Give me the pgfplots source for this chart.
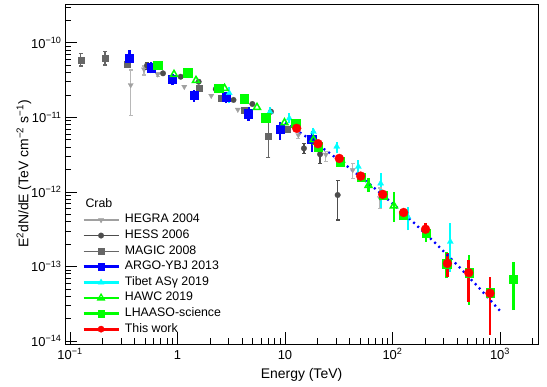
\documentclass[border=0pt]{standalone}
\usepackage{pgfplots}
\pgfplotsset{compat=1.18}
\usepackage{fontspec}
\setmainfont{Liberation Sans}
\definecolor{hegra}{HTML}{A0A0A0}
\definecolor{hegrabar}{HTML}{B8B8B8}
\definecolor{hess}{HTML}{4D4D4D}
\definecolor{magic}{HTML}{666666}
\definecolor{argo}{HTML}{0000FF}
\definecolor{tibet}{HTML}{00FFFF}
\definecolor{hawc}{HTML}{00FF00}
\definecolor{lhaaso}{HTML}{00FF00}
\definecolor{thiswork}{HTML}{FF0000}
\begin{document}
\begin{tikzpicture}
\begin{axis}[
  scale only axis, width=473bp, height=340bp,
  xmode=log, ymode=log,
  xmin=0.08985, xmax=2257, ymin=9.14e-15, ymax=3.305e-10,
  axis line style={line width=0.9bp},
  tick pos=left, tick align=inside,
  major tick length=12bp, minor tick length=6bp,
  every tick/.style={black, line width=0.7bp},
  xtick={0.1,1,10,100,1000},
  xticklabels={10\textsuperscript{−1},1,10,10\textsuperscript{2},10\textsuperscript{3}},
  minor xtick={0.2,0.3,0.4,0.5,0.6,0.7,0.8,0.9,2,3,4,5,6,7,8,9,20,30,40,50,60,70,80,90,200,300,400,500,600,700,800,900,2000},
  ytick={1e-14,1e-13,1e-12,1e-11,1e-10},
  yticklabels={10\textsuperscript{−14},10\textsuperscript{−13},10\textsuperscript{−12},10\textsuperscript{−11},10\textsuperscript{−10}},
  minor ytick={2e-14,3e-14,4e-14,5e-14,6e-14,7e-14,8e-14,9e-14,2e-13,3e-13,4e-13,5e-13,6e-13,7e-13,8e-13,9e-13,2e-12,3e-12,4e-12,5e-12,6e-12,7e-12,8e-12,9e-12,2e-11,3e-11,4e-11,5e-11,6e-11,7e-11,8e-11,9e-11,2e-10,3e-10},
  ticklabel style={font=\fontsize{13}{15}\selectfont},
  xticklabel style={text height=9.5bp, text depth=0bp, anchor=north, yshift=-2bp},
  every axis x label/.style={at={(axis description cs:0.5,-0.1)}, anchor=base},
  every axis y label/.style={at={(axis description cs:-0.0772,0.5)}, anchor=base, rotate=90},
  label style={font=\fontsize{14}{16}\selectfont},
  xlabel={Energy (TeV)},
  ylabel={E\textsuperscript{2}dN/dE (TeV cm\textsuperscript{−2} s\textsuperscript{−1})},
  legend image code/.code={\draw[mark repeat=2,mark phase=2,#1] plot coordinates {(0bp,0bp) (17.5bp,0bp) (35bp,0bp)};},
  legend cell align=left,
  legend style={at={(axis description cs:0.036,0.3884)}, anchor=north west, draw=none, fill=none,
    inner sep=0pt, row sep=0pt, font=\fontsize{12.4}{14}\selectfont,
    nodes={inner ysep=1.8bp, inner xsep=5bp, text height=9bp, text depth=3bp}},
]
% ---------------- HEGRA 2004
\addplot[hegrabar, line width=1.2bp, mark=-, mark size=2bp, mark options={solid}, unbounded coords=jump, forget plot] coordinates {
(0.367,1.07e-11)(0.367,4.31e-11)(0.367,nan)
(0.488,3.69e-11)(0.488,4.87e-11)(0.488,nan)
(0.655,3.55e-11)(0.655,4.0e-11)(0.655,nan)
(13.3,5.23e-12)(13.3,6.41e-12)(13.3,nan)
(24.0,2.54e-12)(24.0,3.45e-12)(24.0,nan)
(42.7,1.52e-12)(42.7,2.42e-12)(42.7,nan)
(76.5,6.03e-13)(76.5,1.13e-12)
};
\addplot[only marks, mark=triangle*, mark size=3bp, mark options={rotate=180, fill=hegra, draw=hegra, line width=0.3bp}, forget plot] coordinates {
(0.367,2.71e-11)(0.488,4.40e-11)(0.655,3.77e-11)(1.157,2.57e-11)(2.06,1.95e-11)(3.64,1.27e-11)(13.3,5.79e-12)(24.0,3.17e-12)(42.7,1.97e-12)(76.5,8.28e-13)
};
% ---------------- HESS 2006
\addplot[hess, line width=1.2bp, mark=-, mark size=2bp, mark options={solid}, unbounded coords=jump, forget plot] coordinates {
(0.520,4.40e-11)(0.520,5.46e-11)(0.520,nan)
(15.0,3.29e-12)(15.0,4.48e-12)(15.0,nan)
(21.2,2.42e-12)(21.2,3.46e-12)(21.2,nan)
(30.9,4.2e-13)(30.9,1.43e-12)
};
\addplot[only marks, mark=*, mark size=2.8bp, mark options={fill=hess, draw=hess, line width=0.3bp}, forget plot] coordinates {
(0.520,4.95e-11)(0.733,3.89e-11)(1.071,3.50e-11)(1.574,3.00e-11)(2.27,2.39e-11)(3.32,1.71e-11)(4.97,1.51e-11)(7.41,1.19e-11)(15.0,3.84e-12)(21.2,3.20e-12)(30.9,9.09e-13)
};
% ---------------- MAGIC 2008
\addplot[magic, line width=1.2bp, mark=-, mark size=2bp, mark options={solid}, unbounded coords=jump, forget plot] coordinates {
(0.1257,4.87e-11)(0.1257,7.21e-11)(0.1257,nan)
(0.212,5.02e-11)(0.212,7.57e-11)(0.212,nan)
(7.02,2.91e-12)(7.02,1.07e-11)
};
\addplot[only marks, mark=square*, mark size=3bp, mark options={fill=magic, draw=magic, line width=0.3bp}, forget plot] coordinates {
(0.1257,5.86e-11)(0.212,6.29e-11)(0.337,5.13e-11)(1.574,2.45e-11)(2.56,1.80e-11)(4.20,1.23e-11)(7.02,5.62e-12)(10.55,6.90e-12)
};
% ---------------- ARGO-YBJ 2013
\addplot[argo, line width=2.7bp, unbounded coords=jump, forget plot] coordinates {
(0.356,4.76e-11)(0.356,7.98e-11)(0.356,nan)
(0.567,3.89e-11)(0.567,5.56e-11)(0.567,nan)
(0.895,2.71e-11)(0.895,3.77e-11)(0.895,nan)
(1.424,1.62e-11)(1.424,2.32e-11)(1.424,nan)
(2.83,1.54e-11)(2.83,2.20e-11)(2.83,nan)
(4.56,9.0e-12)(4.56,1.39e-11)(4.56,nan)
(8.98,4.97e-12)(8.98,8.73e-12)(8.98,nan)
(17.8,3.46e-12)(17.8,6.6e-12)
};
\addplot[only marks, mark=square*, mark size=4.3bp, mark options={fill=argo, draw=argo, line width=0.3bp}, forget plot] coordinates {
(0.356,6.18e-11)(0.567,4.63e-11)(0.895,3.23e-11)(1.424,1.99e-11)(2.83,1.89e-11)(4.56,1.13e-11)(8.98,6.90e-12)(17.8,5.07e-12)
};
% ---------------- Tibet ASgamma 2019
\addplot[tibet, line width=2bp, unbounded coords=jump, forget plot] coordinates {
(3.03,1.54e-11)(3.03,2.57e-11)(3.03,nan)
(7.25,9.7e-12)(7.25,1.39e-11)(7.25,nan)
(10.97,8.32e-12)(10.97,1.13e-11)(10.97,nan)
(18.4,5.5e-12)(18.4,7.13e-12)(18.4,nan)
(30.3,3.29e-12)(30.3,4.71e-12)(30.3,nan)
(48.1,1.69e-12)(48.1,2.68e-12)(48.1,nan)
(77.6,6.08e-13)(77.6,1.77e-12)(77.6,nan)
(139,3.08e-13)(139,6.34e-13)(139,nan)
(345,8.5e-14)(345,3.83e-13)
};
\addplot[only marks, mark=triangle*, mark size=3.5bp, mark options={fill=tibet, draw=tibet, line width=0.3bp}, forget plot] coordinates {
(3.03,2.12e-11)(7.25,1.19e-11)(10.97,9.70e-12)(18.4,6.41e-12)(30.3,4.06e-12)(48.1,2.18e-12)(77.6,1.30e-12)(139,4.66e-13)(345,2.15e-13)
};
% ---------------- HAWC 2019
\addplot[hawc, line width=2.5bp, unbounded coords=jump, forget plot] coordinates {
(18.4,4.26e-12)(18.4,5.79e-12)(18.4,nan)
(59.8,1.01e-12)(59.8,1.52e-12)(59.8,nan)
(103,3.98e-13)(103,1.0e-12)
};
\addplot[only marks, mark=triangle, mark size=4bp, mark options={draw=hawc, fill=none, line width=1.5bp}, forget plot] coordinates {
(0.928,3.77e-11)(1.486,3.13e-11)(2.74,2.45e-11)(5.49,1.36e-11)(9.89,8.47e-12)(18.4,5.01e-12)(33.2,2.68e-12)(59.8,1.22e-12)(103,6.51e-13)
};
% ---------------- LHAASO-science
\addplot[lhaaso, line width=2.5bp, unbounded coords=jump, forget plot] coordinates {
(205,2.15e-13)(205,3.79e-13)(205,nan)
(319,6.95e-14)(319,1.58e-13)(319,nan)
(515,3.05e-14)(515,1.41e-13)(515,nan)
(807,3.8e-14)(807,5.1e-14)(807,nan)
(1330,2.61e-14)(1330,1.16e-13)
};
\addplot[only marks, mark=square*, mark size=4.3bp, mark options={fill=lhaaso, draw=lhaaso, line width=0.3bp}, forget plot] coordinates {
(0.655,5.02e-11)(1.244,3.96e-11)(2.43,2.45e-11)(4.16,1.79e-11)(6.62,9.94e-12)(12.5,8.39e-12)(20.4,4.04e-12)(32.5,2.54e-12)(50.9,1.57e-12)(82.0,9.09e-13)(126,4.90e-13)(205,2.79e-13)(319,1.10e-13)(515,8.26e-14)(807,4.46e-14)(1330,6.80e-14)
};
% ---------------- This work
\addplot[thiswork, line width=2.5bp, unbounded coords=jump, forget plot] coordinates {
(203,2.51e-13)(203,3.79e-13)(203,nan)
(324,7.3e-14)(324,1.52e-13)(324,nan)
(512,3.37e-14)(512,1.22e-13)(512,nan)
(807,1.21e-14)(807,7.3e-14)
};
\addplot[only marks, mark=*, mark size=4.5bp, mark options={fill=thiswork, draw=thiswork, line width=0.3bp}, forget plot] coordinates {
(12.85,7.12e-12)(20.3,4.43e-12)(32.0,2.81e-12)(50.6,1.63e-12)(81.1,9.29e-13)(127,5.30e-13)(203,3.16e-13)(324,1.10e-13)(512,8.26e-14)(807,4.38e-14)
};
% ---------------- fit line
\addplot[argo, line width=2.3bp, dash pattern=on 2bp off 3.8bp, no marks, forget plot] coordinates {
(10,8.41e-12)(15.85,5.47e-12)(25.12,3.44e-12)(39.81,2.09e-12)(63.1,1.23e-12)(100,7.00e-13)(158.5,3.85e-13)(251.2,2.05e-13)(398.1,1.057e-13)(631,5.27e-14)(1000,2.54e-14)
};
% ---------------- legend
\addlegendimage{hegra, line width=1.8bp, mark=triangle*, mark size=3bp, mark options={solid, rotate=180, fill=hegra, line width=0.3bp}}
\addlegendentry{HEGRA 2004}
\addlegendimage{hess, line width=1.2bp, mark=*, mark size=2.8bp, mark options={solid, fill=hess, line width=0.3bp}}
\addlegendentry{HESS 2006}
\addlegendimage{magic, line width=1.2bp, mark=square*, mark size=2.8bp, mark options={solid, fill=magic, line width=0.3bp}}
\addlegendentry{MAGIC 2008}
\addlegendimage{argo, line width=2.7bp, mark=square*, mark size=3.2bp, mark options={solid, fill=argo, line width=0.3bp}}
\addlegendentry{ARGO-YBJ 2013}
\addlegendimage{tibet, line width=2.7bp, mark=triangle*, mark size=3.5bp, mark options={solid, fill=tibet, line width=0.3bp}}
\addlegendentry{Tibet ASγ 2019}
\addlegendimage{hawc, line width=2.7bp, mark=triangle, mark size=3.8bp, mark options={solid, fill=none, line width=1.3bp}}
\addlegendentry{HAWC 2019}
\addlegendimage{lhaaso, line width=2.7bp, mark=square*, mark size=3.2bp, mark options={solid, fill=lhaaso, line width=0.3bp}}
\addlegendentry{LHAASO-science}
\addlegendimage{thiswork, line width=2.7bp, mark=*, mark size=3.2bp, mark options={solid, fill=thiswork, line width=0.3bp}}
\addlegendentry{This work}
\node[anchor=base west, font=\fontsize{12.4}{14}\selectfont] at (axis description cs:0.036,0.4006) {Crab};
\end{axis}
\pgfresetboundingbox
\path[use as bounding box] ([xshift=-65bp,yshift=-43bp]current axis.south west) rectangle ([xshift=9bp,yshift=4bp]current axis.north east);
\end{tikzpicture}
\end{document}
